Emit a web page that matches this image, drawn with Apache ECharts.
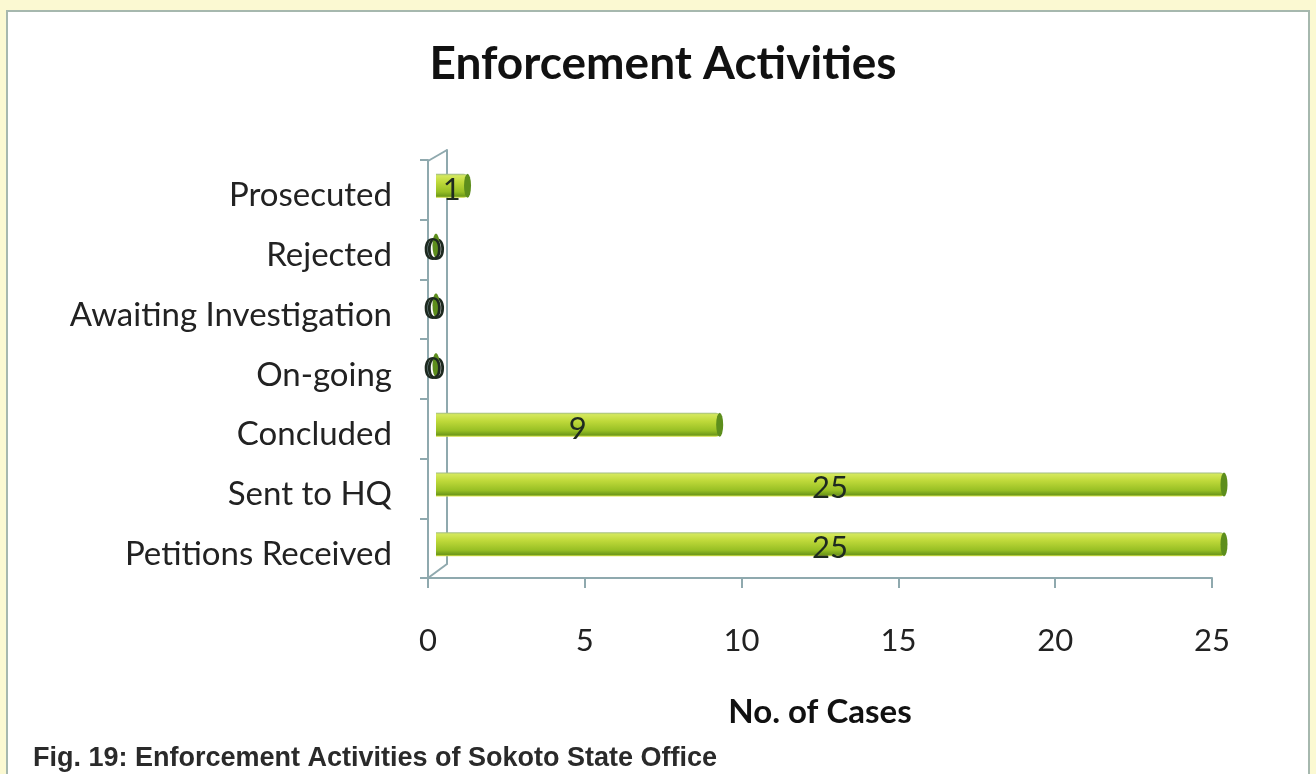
<!DOCTYPE html>
<html>
<head>
<meta charset="utf-8">
<script src="https://cdn.jsdelivr.net/npm/echarts@6/dist/echarts.min.js"></script>
<style>
  html, body { margin: 0; padding: 0; background: #fbf9d2; }
  #chart { width: 1316px; height: 774px; }
</style>
</head>
<body>
<div id="chart"></div>
<script>
// data
const categories = ["Petitions Received", "Sent to HQ", "Concluded", "On-going", "Awaiting Investigation", "Rejected", "Prosecuted"];
const cases = [25, 25, 9, 0, 0, 0, 1];
const xTicks = [0, 5, 10, 15, 20, 25];

const labelFont = "Lato";
const axisColor = "#8fa9ae";

const chart = echarts.init(document.getElementById("chart"));

const cylinder = new echarts.graphic.LinearGradient(0, 0, 0, 1, [
    { offset: 0, color: "#9fb98a" },
    { offset: 0.08, color: "#d4e85c" },
    { offset: 0.35, color: "#bfd93a" },
    { offset: 0.75, color: "#97bf24" },
    { offset: 0.93, color: "#6e9a1a" },
    { offset: 1, color: "#dfe84a" }
]);

const options = {
    backgroundColor: "#fbf9d2",
    animation: false,
    title: {
        text: "Enforcement Activities",
        left: 658, textAlign: "center",
        top: 36,
        textStyle: { fontFamily: labelFont, fontWeight: "bold", fontSize: 46, color: "#111" }
    },
    graphic: [
        {
            type: "rect", z: -10,
            shape: { x: 7, y: 11, width: 1302, height: 770 },
            style: { fill: "#ffffff", stroke: "#a6b8ae", lineWidth: 2 }
        },
        // 3D wall corners
        { type: "line", shape: { x1: 428, y1: 161, x2: 447, y2: 150 }, style: { stroke: axisColor, lineWidth: 2 } },
        { type: "line", shape: { x1: 428, y1: 578, x2: 447, y2: 564 }, style: { stroke: axisColor, lineWidth: 2 } },
        {
            type: "text", left: 33, top: 745,
            style: { text: "Fig. 19: Enforcement Activities of Sokoto State Office", fontFamily: "Liberation Sans", fontWeight: "bold", fontSize: 27, fill: "#2a2a2a" }
        }
    ],
    grid: [
        { left: 428, top: 160, width: 784, height: 418 },
        { left: 447, top: 150, width: 784, height: 414 },
        { left: 436, top: 156, width: 788, height: 418 }
    ],
    xAxis: [
        {
            gridIndex: 0, type: "value", min: 0, max: 25, interval: 5,
            name: "No. of Cases", nameLocation: "middle", nameGap: 118,
            nameTextStyle: { fontFamily: labelFont, fontWeight: "bold", fontSize: 33, color: "#111" },
            axisLine: { show: true, lineStyle: { color: axisColor, width: 2 } },
            axisTick: { show: true, inside: false, length: 10, lineStyle: { color: axisColor, width: 2 } },
            axisLabel: { margin: 47, fontFamily: labelFont, fontSize: 31, color: "#222",
                formatter: v => xTicks.includes(v) ? String(v) : "" },
            splitLine: { show: false }
        },
        { gridIndex: 1, type: "value", min: 0, max: 25, show: false },
        { gridIndex: 2, type: "value", min: 0, max: 25, show: false }
    ],
    yAxis: [
        {
            gridIndex: 0, type: "category", data: categories,
            axisLine: { show: true, lineStyle: { color: axisColor, width: 2 } },
            axisTick: { show: true, length: 8, lineStyle: { color: axisColor, width: 2 } },
            axisLabel: { margin: 36, verticalAlign: "top", lineHeight: 12, fontFamily: labelFont, fontSize: 33, color: "#222" }
        },
        {
            gridIndex: 1, type: "category", data: categories,
            axisLine: { show: true, lineStyle: { color: axisColor, width: 2 } },
            axisTick: { show: false }, axisLabel: { show: false }
        },
        { gridIndex: 2, type: "category", data: categories, show: false }
    ],
    series: [
        {
            type: "bar", xAxisIndex: 2, yAxisIndex: 2,
            data: cases, barWidth: 24,
            itemStyle: { color: cylinder, borderRadius: [0, 4, 4, 0] },
            label: {
                show: true, position: "inside", offset: [0, 4],
                fontFamily: labelFont, fontSize: 31, color: "#1e2a20"
            },
            z: 3
        },
        {
            // end caps; also carries the labels of empty bars
            type: "pictorialBar", xAxisIndex: 2, yAxisIndex: 2,
            data: cases, symbol: "circle", symbolSize: [7, 24],
            symbolPosition: "end", symbolOffset: ["50%", 0],
            itemStyle: { color: "#5d8e1c" },
            label: {
                show: true, position: "inside", offset: [-5, 4],
                formatter: p => p.value === 0 ? "0" : "",
                fontFamily: labelFont, fontSize: 31, color: "#1e2a20"
            },
            silent: true, z: 4
        }
    ]
};

chart.setOption(options);
</script>
</body>
</html>
